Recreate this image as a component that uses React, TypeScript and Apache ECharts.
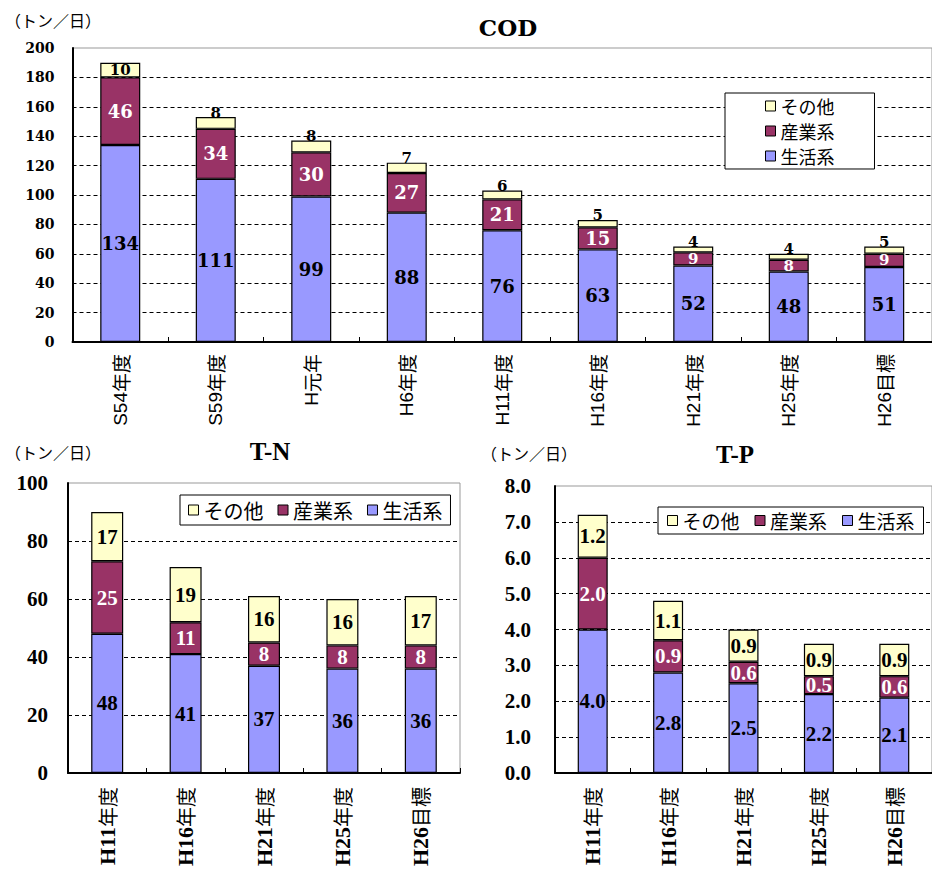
import React, { useEffect, useRef } from "react";
import * as echarts from "echarts";

// ---- data ----
const codCategories = ["S54年度", "S59年度", "H元年", "H6年度", "H11年度", "H16年度", "H21年度", "H25年度", "H26目標"];
const codSeikatsu = [134, 111, 99, 88, 76, 63, 52, 48, 51];
const codSangyo = [46, 34, 30, 27, 21, 15, 9, 8, 9];
const codSonota = [10, 8, 8, 7, 6, 5, 4, 4, 5];

const tnCategories = ["H11年度", "H16年度", "H21年度", "H25年度", "H26目標"];
const tnSeikatsu = [48, 41, 37, 36, 36];
const tnSangyo = [25, 11, 8, 8, 8];
const tnSonota = [17, 19, 16, 16, 17];

const tpCategories = ["H11年度", "H16年度", "H21年度", "H25年度", "H26目標"];
const tpSeikatsu = [4.0, 2.8, 2.5, 2.2, 2.1];
const tpSangyo = [2.0, 0.9, 0.6, 0.5, 0.6];
const tpSonota = [1.2, 1.1, 0.9, 0.9, 0.9];

const seriesNames = ["生活系", "産業系", "その他"];
const legendOrder = ["その他", "産業系", "生活系"];
const unitLabel = "（トン／日）";

const COLORS = ["#9999FF", "#993366", "#FFFFCC"];
const LABEL_COLORS = ["#000", "#fff", "#000"];
const CJK = '"Noto Sans CJK JP", sans-serif';

function splitLabel(v: string) {
  const m = v.match(/^([A-Za-z0-9]+)(.*)$/);
  if (!m) return "{b|" + v + "}";
  return "{a|" + m[1] + "}{b|" + m[2] + "}";
}

export default function App() {
  const ref = useRef<HTMLDivElement>(null);
  useEffect(() => {
    if (!ref.current) return;
    const chart = echarts.init(ref.current, null, { renderer: "svg" });

    const mkX = (gridIndex: number, data: string[], serifDigits: boolean, fs: number) => ({
      type: "category",
      gridIndex,
      data,
      axisLine: { lineStyle: { color: "#000", width: 2 } },
      axisTick: { show: true, inside: true, length: 5, lineStyle: { color: "#000", width: 1 } },
      axisLabel: {
        rotate: 90,
        margin: serifDigits ? 14 : 12,
        color: "#000",
        formatter: (v: string) => splitLabel(v),
        rich: {
          a: serifDigits
            ? { fontFamily: '"Liberation Serif", serif', fontWeight: "bold", fontSize: fs + 2, color: "#000" }
            : { fontFamily: '"Liberation Sans", sans-serif', fontSize: fs, color: "#000" },
          b: { fontFamily: CJK, fontSize: fs, color: "#000" },
        },
      },
    });

    const mkY = (gridIndex: number, max: number, interval: number, font: any, margin: number, dec: number) => ({
      type: "value",
      gridIndex,
      min: 0,
      max,
      interval,
      axisLine: { show: true, lineStyle: { color: "#000", width: 2 } },
      axisTick: { show: false },
      splitLine: {
        show: true,
        showMaxLine: false,
        lineStyle: { color: "#000", width: 1, type: [4, 3] },
      },
      axisLabel: {
        color: "#000",
        margin,
        ...font,
        formatter: (v: number) => v.toFixed(dec),
      },
    });

    const mkSeries = (
      idx: number,
      data: number[][],
      barWidth: number,
      labelFonts: any[],
      dec: number,
      smallTop: number,
      smallMid: number
    ) =>
      seriesNames.map((name, i) => ({
        name,
        type: "bar",
        stack: "s" + idx,
        xAxisIndex: idx,
        yAxisIndex: idx,
        barWidth,
        data: data[i].map((v) => {
          if (i === 2 && v <= smallTop) return { value: v, label: { position: "top", distance: -3 } };
          if (i === 1 && v <= smallMid) return { value: v, label: { fontSize: 15 } };
          return v;
        }),
        itemStyle: { color: COLORS[i], borderColor: "#000", borderWidth: 1.2 },
        label: {
          show: true,
          position: "inside",
          color: LABEL_COLORS[i],
          ...labelFonts[i],
          formatter: (p: any) => Number(p.value).toFixed(dec),
        },
      }));

    const topLabelFont = (fs: number) => ({ fontFamily: '"DejaVu Serif", serif', fontWeight: "bold", fontSize: fs });
    const botLabelFont = (fs: number) => ({ fontFamily: '"Liberation Serif", serif', fontWeight: "bold", fontSize: fs });

    const legendBase = {
      data: legendOrder,
      itemWidth: 10,
      itemHeight: 10,
      icon: "rect",
      borderColor: "#000",
      borderWidth: 1,
      backgroundColor: "#fff",
      itemStyle: { borderColor: "#000", borderWidth: 1 },
      selectedMode: false,
      z: 10,
    };

    const option: any = {
      animation: false,
      backgroundColor: "#fff",
      grid: [
        { left: 72.5, top: 48, width: 870.5, height: 294, show: true, borderColor: "#999", borderWidth: 1 },
        { left: 68, top: 483, width: 392, height: 290, show: true, borderColor: "#999", borderWidth: 1 },
        { left: 555, top: 486, width: 382, height: 287, show: true, borderColor: "#999", borderWidth: 1 },
      ],
      xAxis: [
        mkX(0, codCategories, false, 19),
        mkX(1, tnCategories, true, 20),
        mkX(2, tpCategories, true, 20),
      ],
      yAxis: [
        mkY(0, 200, 20, { fontFamily: '"DejaVu Serif", serif', fontWeight: "bold", fontSize: 14 }, 18, 0),
        mkY(1, 100, 20, { fontFamily: '"Liberation Serif", serif', fontWeight: "bold", fontSize: 21 }, 20, 0),
        mkY(2, 8, 1, { fontFamily: '"Liberation Serif", serif', fontWeight: "bold", fontSize: 21 }, 24, 1),
      ],
      legend: [
        {
          ...legendBase,
          orient: "vertical",
          left: 725,
          top: 93,
          padding: [4, 40, 4, 40],
          itemGap: 7,
          textStyle: { fontFamily: CJK, fontSize: 18, color: "#000" },
        },
        {
          ...legendBase,
          orient: "horizontal",
          left: 180,
          top: 495,
          padding: [5, 8, 5, 8],
          itemGap: 14,
          textStyle: { fontFamily: CJK, fontSize: 20, color: "#000" },
        },
        {
          ...legendBase,
          orient: "horizontal",
          left: 658,
          top: 507,
          padding: [4, 9, 4, 9],
          itemGap: 15,
          textStyle: { fontFamily: CJK, fontSize: 19, color: "#000" },
        },
      ],
      graphic: [
        {
          type: "text",
          x: 508,
          y: 27,
          style: { text: "COD", fontFamily: '"DejaVu Serif", serif', fontWeight: "bold", fontSize: 23, fill: "#000", textAlign: "center", textVerticalAlign: "middle" },
        },
        {
          type: "text",
          x: 270,
          y: 451,
          style: { text: "T-N", fontFamily: '"Liberation Serif", serif', fontWeight: "bold", fontSize: 25, fill: "#000", textAlign: "center", textVerticalAlign: "middle" },
        },
        {
          type: "text",
          x: 735,
          y: 454,
          style: { text: "T-P", fontFamily: '"Liberation Serif", serif', fontWeight: "bold", fontSize: 25, fill: "#000", textAlign: "center", textVerticalAlign: "middle" },
        },
        {
          type: "text",
          x: 5,
          y: 20,
          style: { text: unitLabel, fontFamily: CJK, fontSize: 16, fill: "#000", textVerticalAlign: "middle" },
        },
        {
          type: "text",
          x: 5,
          y: 452,
          style: { text: unitLabel, fontFamily: CJK, fontSize: 16, fill: "#000", textVerticalAlign: "middle" },
        },
        {
          type: "text",
          x: 481,
          y: 453,
          style: { text: unitLabel, fontFamily: CJK, fontSize: 16, fill: "#000", textVerticalAlign: "middle" },
        },
      ],
      series: [
        ...mkSeries(0, [codSeikatsu, codSangyo, codSonota], 40, [topLabelFont(18), topLabelFont(18), topLabelFont(15)], 0, 8, 9),
        ...mkSeries(1, [tnSeikatsu, tnSangyo, tnSonota], 32, [botLabelFont(21), botLabelFont(21), botLabelFont(21)], 0, -1, -1),
        ...mkSeries(2, [tpSeikatsu, tpSangyo, tpSonota], 30, [botLabelFont(21), botLabelFont(21), botLabelFont(21)], 1, -1, -1),
      ],
    };

    chart.setOption(option);
    return () => chart.dispose();
  }, []);

  return (
    <div
      ref={ref}
      style={{ position: "fixed", left: 0, top: 0, width: 932, height: 872, background: "#fff" }}
    />
  );
}
